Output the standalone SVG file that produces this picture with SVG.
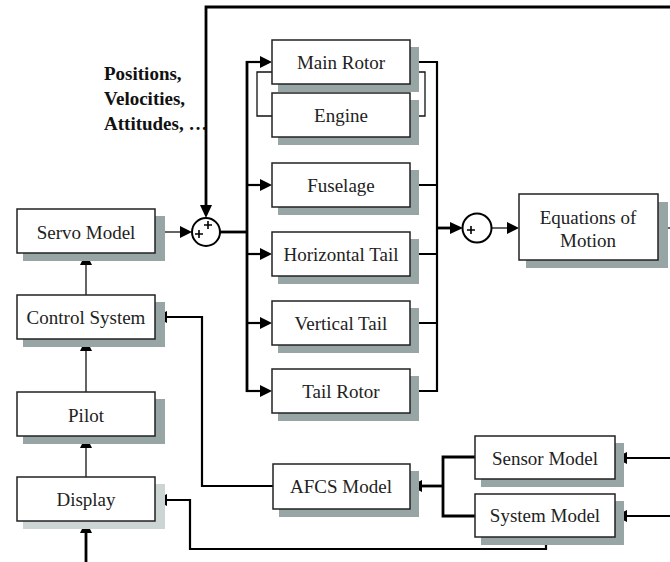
<svg xmlns="http://www.w3.org/2000/svg" width="670" height="562" viewBox="0 0 670 562">
<defs>
<style>
.box{fill:#fff;stroke:#222;stroke-width:1.5}
.sh{fill:#97a5a5}
.shl{fill:#ccd5d3}
.t{font-family:'Liberation Serif','Times New Roman',serif;font-size:19px;fill:#222;text-anchor:middle}
.lbl{font-family:'Liberation Serif','Times New Roman',serif;font-size:19px;font-weight:bold;fill:#111}
.thin{fill:none;stroke:#111;stroke-width:1.3}
.thk{fill:none;stroke:#000;stroke-width:2.8}
.med{fill:none;stroke:#000;stroke-width:2.2}
.ah{fill:#000;stroke:none}
</style>
</defs>
<rect width="670" height="562" fill="#fff"/>

<g id="connectors">
<path class="thk" d="M670,7 H206 V210"/>
<path class="thin" d="M155,232 H186"/>
<path class="thk" d="M220,232 H247"/>
<path class="thk" d="M247,61 V392"/>
<path class="med" d="M246,62 H265"/>
<path class="med" d="M247,185 H265"/>
<path class="med" d="M247,254 H265"/>
<path class="med" d="M247,323 H265"/>
<path class="med" d="M246,391 H265"/>
<path class="med" d="M410,62 H437 V391 H410"/>
<path class="med" d="M410,185 H437 M410,254 H437 M410,323 H437"/>
<path class="thk" d="M437,228 H456"/>
<path class="thin" d="M491,228 H512"/>
<path class="thin" d="M658,228 H670"/>
<path class="thin" d="M272,72 H257 V116 H272"/>
<path class="thin" d="M410,72 H425 V116 H410"/>
<path class="thin" d="M86,295 V259"/>
<path class="thin" d="M86,392 V345"/>
<path class="thin" d="M86,477 V442"/>
<path class="thk" d="M86,562 V527"/>
<path class="med" d="M273,486 H202 V317 H161"/>
<path class="thk" d="M475,457 H443 V516 H475"/>
<path class="thk" d="M443,486 H416"/>
<path class="med" d="M670,458 H621"/>
<path class="med" d="M670,516 H621"/>
<path class="med" d="M546,537 V549 H190 V500 H161"/>
<polygon class="ah" points="200,205 212,205 206,218"/>
<polygon class="ah" points="180,226 180,238 192,232"/>
<polygon class="ah" points="260,56 260,68 272,62"/>
<polygon class="ah" points="260,179 260,191 272,185"/>
<polygon class="ah" points="260,248 260,260 272,254"/>
<polygon class="ah" points="260,317 260,329 272,323"/>
<polygon class="ah" points="260,385 260,397 272,391"/>
<polygon class="ah" points="450,222 450,234 463,228"/>
<polygon class="ah" points="507,222 507,234 519,228"/>
<polygon class="ah" points="80,265 92,265 86,253"/>
<polygon class="ah" points="80,351 92,351 86,339"/>
<polygon class="ah" points="80,448 92,448 86,436"/>
<polygon class="ah" points="80,533 92,533 86,521"/>
<polygon class="ah" points="167,311 167,323 155,317"/>
<polygon class="ah" points="422,480 422,492 410,486"/>
<polygon class="ah" points="627,452 627,464 615,458"/>
<polygon class="ah" points="627,510 627,522 615,516"/>
<polygon class="ah" points="167,494 167,506 155,500"/>
</g>

<g id="sum1">
<circle cx="206" cy="232" r="14" fill="#fff" stroke="#000" stroke-width="2"/>
<path d="M195,234 H203 M199,230 V238 M204,225 H212 M208,221 V229" stroke="#000" stroke-width="1.6" fill="none"/>
</g>
<g id="sum2">
<circle cx="477" cy="228" r="14.5" fill="#fff" stroke="#000" stroke-width="2"/>
<path d="M467,230 H475 M471,226 V234" stroke="#000" stroke-width="1.6" fill="none"/>
</g>

<g id="label">
<text class="lbl" x="104" y="80">Positions,</text>
<text class="lbl" x="104" y="105">Velocities,</text>
<text class="lbl" x="104" y="130">Attitudes, …</text>
</g>

<g id="servo"><rect class="sh" x="23" y="216" width="142" height="45"/><rect class="box" x="17" y="209" width="138" height="44"/><text class="t" x="86" y="239">Servo Model</text></g>
<g id="control"><rect class="sh" x="23" y="302" width="142" height="45"/><rect class="box" x="17" y="295" width="138" height="44"/><text class="t" x="86" y="324">Control System</text></g>
<g id="pilot"><rect class="sh" x="23" y="399" width="142" height="45"/><rect class="box" x="17" y="392" width="138" height="44"/><text class="t" x="86" y="422">Pilot</text></g>
<g id="display"><rect class="shl" x="23" y="484" width="142" height="45"/><rect class="box" x="17" y="477" width="138" height="44"/><text class="t" x="86" y="506">Display</text></g>

<g id="mainrotor"><rect class="sh" x="278" y="47" width="141" height="45"/><rect class="box" x="272" y="40" width="138" height="44"/><text class="t" x="341" y="69">Main Rotor</text></g>
<g id="engine"><rect class="sh" x="278" y="100" width="141" height="45"/><rect class="box" x="272" y="93" width="138" height="44"/><text class="t" x="341" y="122">Engine</text></g>
<g id="fuselage"><rect class="sh" x="278" y="170" width="141" height="45"/><rect class="box" x="272" y="163" width="138" height="44"/><text class="t" x="341" y="192">Fuselage</text></g>
<g id="htail"><rect class="sh" x="278" y="239" width="141" height="45"/><rect class="box" x="272" y="232" width="138" height="44"/><text class="t" x="341" y="261">Horizontal Tail</text></g>
<g id="vtail"><rect class="sh" x="278" y="308" width="141" height="45"/><rect class="box" x="272" y="301" width="138" height="44"/><text class="t" x="341" y="330">Vertical Tail</text></g>
<g id="tailrotor"><rect class="sh" x="278" y="376" width="141" height="45"/><rect class="box" x="272" y="369" width="138" height="44"/><text class="t" x="341" y="398">Tail Rotor</text></g>

<g id="eom"><rect class="sh" x="526" y="202" width="142" height="66"/><rect class="box" x="519" y="194" width="139" height="66"/><text class="t" x="588" y="224">Equations of</text><text class="t" x="588" y="247">Motion</text></g>

<g id="afcs"><rect class="sh" x="279" y="471" width="140" height="46"/><rect class="box" x="273" y="464" width="137" height="45"/><text class="t" x="341" y="493">AFCS Model</text></g>
<g id="sensor"><rect class="sh" x="481" y="443" width="143" height="44"/><rect class="box" x="475" y="436" width="140" height="43"/><text class="t" x="545" y="465">Sensor Model</text></g>
<g id="system"><rect class="sh" x="481" y="501" width="143" height="44"/><rect class="box" x="475" y="494" width="140" height="43"/><text class="t" x="545" y="522">System Model</text></g>
</svg>
